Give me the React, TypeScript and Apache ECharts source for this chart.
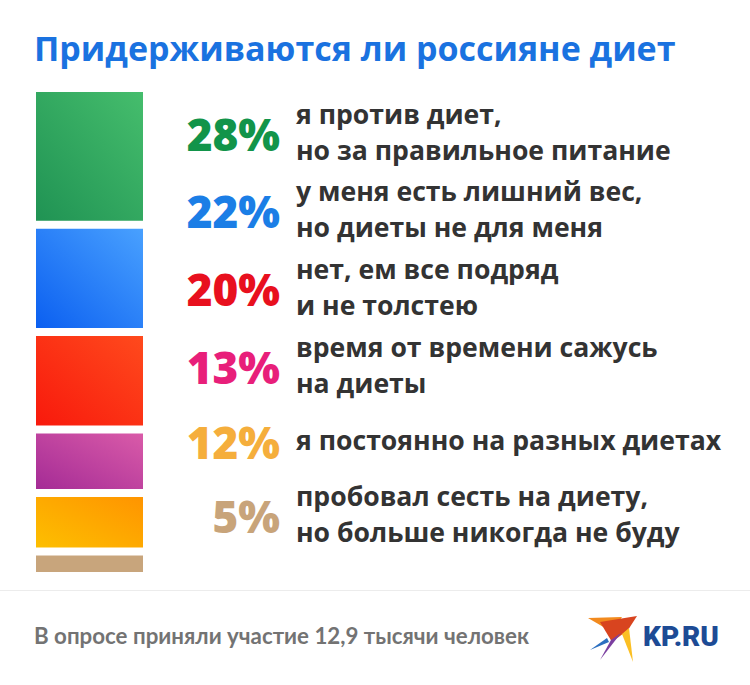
import React, { useEffect, useRef } from "react";
import * as echarts from "echarts";

const title = "Придерживаются ли россияне диет";
const footnote = "В опросе приняли участие 12,9 тысячи человек";
const categories = ["Опрос"];
const values = [28, 22, 20, 13, 12, 5];
const percentLabels = ["28%", "22%", "20%", "13%", "12%", "5%"];
const answerLines = [
  ["я против диет,", "но за правильное питание"],
  ["у меня есть лишний вес,", "но диеты не для меня"],
  ["нет, ем все подряд", "и не толстею"],
  ["время от времени сажусь", "на диеты"],
  ["я постоянно на разных диетах"],
  ["пробовал сесть на диету,", "но больше никогда не буду"],
];
const labelColors = ["#12944a", "#1b7ee6", "#e8101e", "#e81f7a", "#f5ae3c", "#c8a47a"];
const gradientStops = [
  ["#1f9253", "#46be6d"],
  ["#0a5ef0", "#4aa2ff"],
  ["#f8180c", "#ff4b1d"],
  ["#a32a95", "#db5ca9"],
  ["#fdc000", "#ff9300"],
  ["#c8a57c", "#c8a57c"],
];
const rowCenters = [134, 211, 289, 367, 442, 516];

export default function App() {
  const ref = useRef<HTMLDivElement>(null);
  useEffect(() => {
    if (!ref.current) return;
    const chart = echarts.init(ref.current, null, { renderer: "svg" });

    const series = values.map((v, i) => ({
      type: "bar",
      name: percentLabels[i],
      stack: "total",
      barWidth: "100%",
      data: [v],
      itemStyle: {
        color: new echarts.graphic.LinearGradient(0, 1, 1, 0, [
          { offset: 0, color: gradientStops[i][0] },
          { offset: 1, color: gradientStops[i][1] },
        ]),
        borderColor: "#ffffff",
        borderWidth: 4,
      },
    }));

    const graphics: any[] = [
      {
        type: "text",
        x: 34,
        y: 48,
        style: {
          text: title,
          fontFamily: "Open Sans",
          fontWeight: "bold",
          fontSize: 34,
          fill: "#1a72e0",
          verticalAlign: "middle",
        },
      },
      {
        type: "rect",
        shape: { x: 0, y: 590, width: 750, height: 1 },
        style: { fill: "#ececec" },
      },
      {
        type: "text",
        x: 34,
        y: 635,
        style: {
          text: footnote,
          fontFamily: "Lato",
          fontWeight: "bold",
          fontSize: 22.3,
          fill: "#737373",
          verticalAlign: "middle",
        },
      },
    ];

    percentLabels.forEach((p, i) => {
      const c = rowCenters[i];
      graphics.push({
        type: "text",
        x: 280,
        y: c,
        style: {
          text: p,
          fontFamily: "Open Sans",
          fontWeight: 800,
          fontSize: 44,
          fill: labelColors[i],
          align: "right",
          verticalAlign: "middle",
        },
      });
      const lines = answerLines[i];
      lines.forEach((ln, j) => {
        const off = lines.length === 1 ? 0 : j === 0 ? -18 : 18;
        graphics.push({
          type: "text",
          x: 296,
          y: c + off - 2,
          style: {
            text: ln,
            fontFamily: "Open Sans",
            fontWeight: "bold",
            fontSize: 26.6,
            fill: "#333333",
            verticalAlign: "middle",
          },
        });
      });
    });

    // logo bird
    graphics.push(
      {
        type: "polygon",
        shape: { points: [[588, 618], [622, 617], [612, 632]] },
        style: { fill: "#f28a1e" },
      },
      {
        type: "polygon",
        shape: { points: [[600, 622], [637, 616], [628, 630], [612, 642]] },
        style: { fill: "#d8441f" },
      },
      {
        type: "polygon",
        shape: { points: [[622, 634], [629, 628], [633, 662]] },
        style: { fill: "#fbbf23" },
      },
      {
        type: "polygon",
        shape: { points: [[611, 640], [621, 633], [600, 660]] },
        style: { fill: "#7b3fa0" },
      },
      {
        type: "polygon",
        shape: { points: [[590, 650], [607, 638], [609, 642]] },
        style: { fill: "#2c6fc0" },
      },
      {
        type: "text",
        x: 643,
        y: 636,
        style: {
          text: "KP.RU",
          fontFamily: "Roboto",
          fontWeight: 900,
          fontSize: 28,
          fill: "#1d4b95",
          verticalAlign: "middle",
        },
      }
    );

    chart.setOption({
      animation: false,
      backgroundColor: "#ffffff",
      grid: { left: 32, top: 88, width: 115, height: 488 },
      xAxis: {
        type: "category",
        data: categories,
        show: false,
      },
      yAxis: {
        type: "value",
        min: 0,
        max: 100,
        inverse: true,
        show: false,
      },
      series,
      graphic: graphics,
    });
    return () => chart.dispose();
  }, []);
  return <div ref={ref} style={{ width: 750, height: 685, position: "absolute", left: 0, top: 0 }} />;
}
